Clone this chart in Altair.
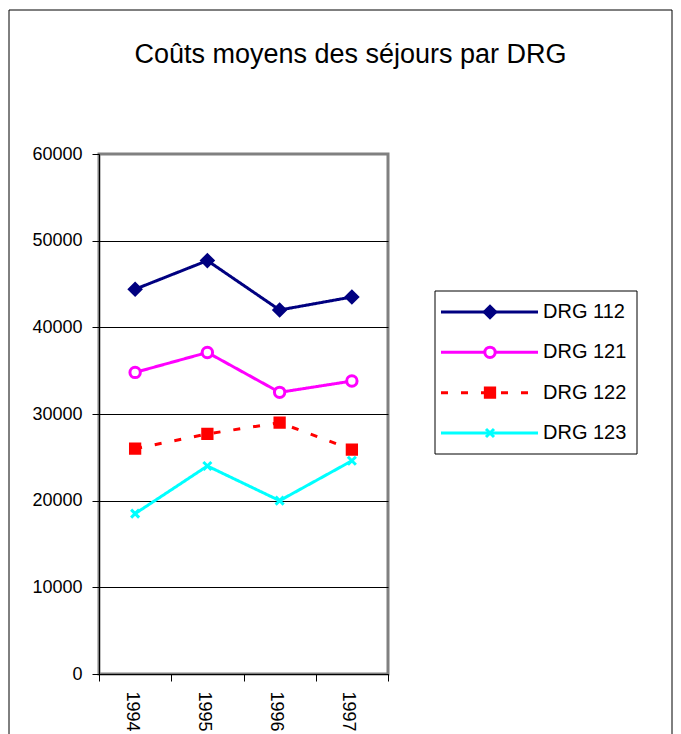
import altair as alt
import pandas as pd

years = ["1994", "1995", "1996", "1997"]
series = ["DRG 112", "DRG 121", "DRG 122", "DRG 123"]
drg112 = [44400, 47700, 42000, 43500]
drg121 = [34800, 37100, 32500, 33800]
drg122 = [26000, 27700, 29000, 25900]
drg123 = [18500, 24000, 20000, 24600]
title_text = ["Coûts moyens des séjours par DRG"]

colors = ["#000080", "#FF00FF", "#FF0000", "#00FFFF"]
fills = ["#000080", "#FFFFFF", "#FF0000", "transparent"]
shapes = ["diamond", "circle", "square", "M-1,-1L1,1M-1,1L1,-1"]
sizes = [130, 64, 30, 160]
dashes = [[1, 0], [1, 0], [7, 13], [1, 0]]
widths = [3, 3, 5, 3]
pwidths = [1, 2.5, 1, 3.5]

rows = []
for name, vals in zip(series, [drg112, drg121, drg122, drg123]):
    for y, v in zip(years, vals):
        rows.append({"year": y, "series": name, "value": v})
df = pd.DataFrame(rows)
leg = pd.DataFrame({"series": series})
one = pd.DataFrame({"t": title_text})

FONT = "Liberation Sans"
W, H = 289, 520

stroke_enc = alt.Stroke("series:N", scale=alt.Scale(domain=series, range=colors), legend=None)
dash_enc = alt.StrokeDash("series:N", scale=alt.Scale(domain=series, range=dashes), legend=None)
sw_enc = alt.StrokeWidth("series:N", scale=alt.Scale(domain=series, range=widths), legend=None)
fill_enc = alt.Fill("series:N", scale=alt.Scale(domain=series, range=fills), legend=None)
shape_enc = alt.Shape("series:N", scale=alt.Scale(domain=series, range=shapes), legend=None)
size_enc = alt.Size("series:N", scale=alt.Scale(domain=series, range=sizes), legend=None)
psw_enc = alt.StrokeWidth("series:N", scale=alt.Scale(domain=series, range=pwidths), legend=None)

x_enc = alt.X("year:N", sort=years,
              scale=alt.Scale(type="band", paddingInner=0, paddingOuter=0),
              axis=alt.Axis(title=None, labelAngle=90, tickBand="extent", grid=False,
                            labelFontSize=18, labelFont=FONT, labelColor="black",
                            tickSize=7, tickColor="black", domainColor="black",
                            labelPadding=10, labelLimit=300, labelOffset=-4))
yscale = alt.Scale(domain=[0, 60000], nice=False)
y_enc = alt.Y("value:Q", scale=yscale,
              axis=alt.Axis(title=None, values=[0, 10000, 20000, 30000, 40000, 50000, 60000],
                            format="d", grid=True, gridColor="black", gridWidth=1,
                            gridOpacity={"condition": {"test": "datum.value >= 60000", "value": 0},
                                         "value": 1},
                            labelFontSize=18, labelFont=FONT, labelColor="black",
                            tickSize=7, tickColor="black", domainColor="black",
                            labelPadding=10))
y_noaxis = alt.Y("value:Q", scale=yscale, axis=None)

frame = alt.Chart(one).mark_rect(fill="transparent", stroke="black", strokeWidth=1).encode(
    x=alt.value(-90), x2=alt.value(573), y=alt.value(-144), y2=alt.value(640))

title = alt.Chart(one).mark_text(font=FONT, fontSize=27, align="center", baseline="alphabetic",
                                 color="black").encode(
    x=alt.value(251.5), y=alt.value(-91), text="t:N")

lines = alt.Chart(df).mark_line().encode(
    x=x_enc, y=y_enc, stroke=stroke_enc, strokeDash=dash_enc, strokeWidth=sw_enc,
    detail="series:N")

points = alt.Chart(df).mark_point(opacity=1, filled=False).encode(
    x=x_enc, y=y_noaxis, stroke=stroke_enc, fill=fill_enc, shape=shape_enc, size=size_enc,
    strokeWidth=psw_enc)

ly = alt.Y("series:N", scale=alt.Scale(type="point", domain=series, range=[158, 279], padding=0),
           axis=None)

legbox = alt.Chart(one).mark_rect(fill="white", stroke="black", strokeWidth=1).encode(
    x=alt.value(336), x2=alt.value(538), y=alt.value(137), y2=alt.value(300))

leglines = alt.Chart(leg).mark_rule().encode(
    x=alt.value(342), x2=alt.value(439), y=ly,
    stroke=stroke_enc, strokeDash=dash_enc, strokeWidth=sw_enc)

legpoints = alt.Chart(leg).mark_point(opacity=1, filled=False).encode(
    x=alt.value(391), y=ly, stroke=stroke_enc, fill=fill_enc, shape=shape_enc,
    size=size_enc, strokeWidth=psw_enc)

legtext = alt.Chart(leg).mark_text(font=FONT, fontSize=20, align="left", baseline="middle",
                                   color="black").encode(
    x=alt.value(444), y=ly, text="series:N")

chart = alt.layer(frame, title, lines, points, legbox, leglines, legpoints, legtext).resolve_scale(
    y="independent"
).properties(
    width=W, height=H,
    autosize=alt.AutoSizeParams(type="none"),
    padding={"left": 91, "top": 146, "right": 285, "bottom": 60},
    background="white",
).configure_view(stroke="#808080", strokeWidth=3)

chart.save("out.html", embed_options={"renderer": "svg", "actions": False})
